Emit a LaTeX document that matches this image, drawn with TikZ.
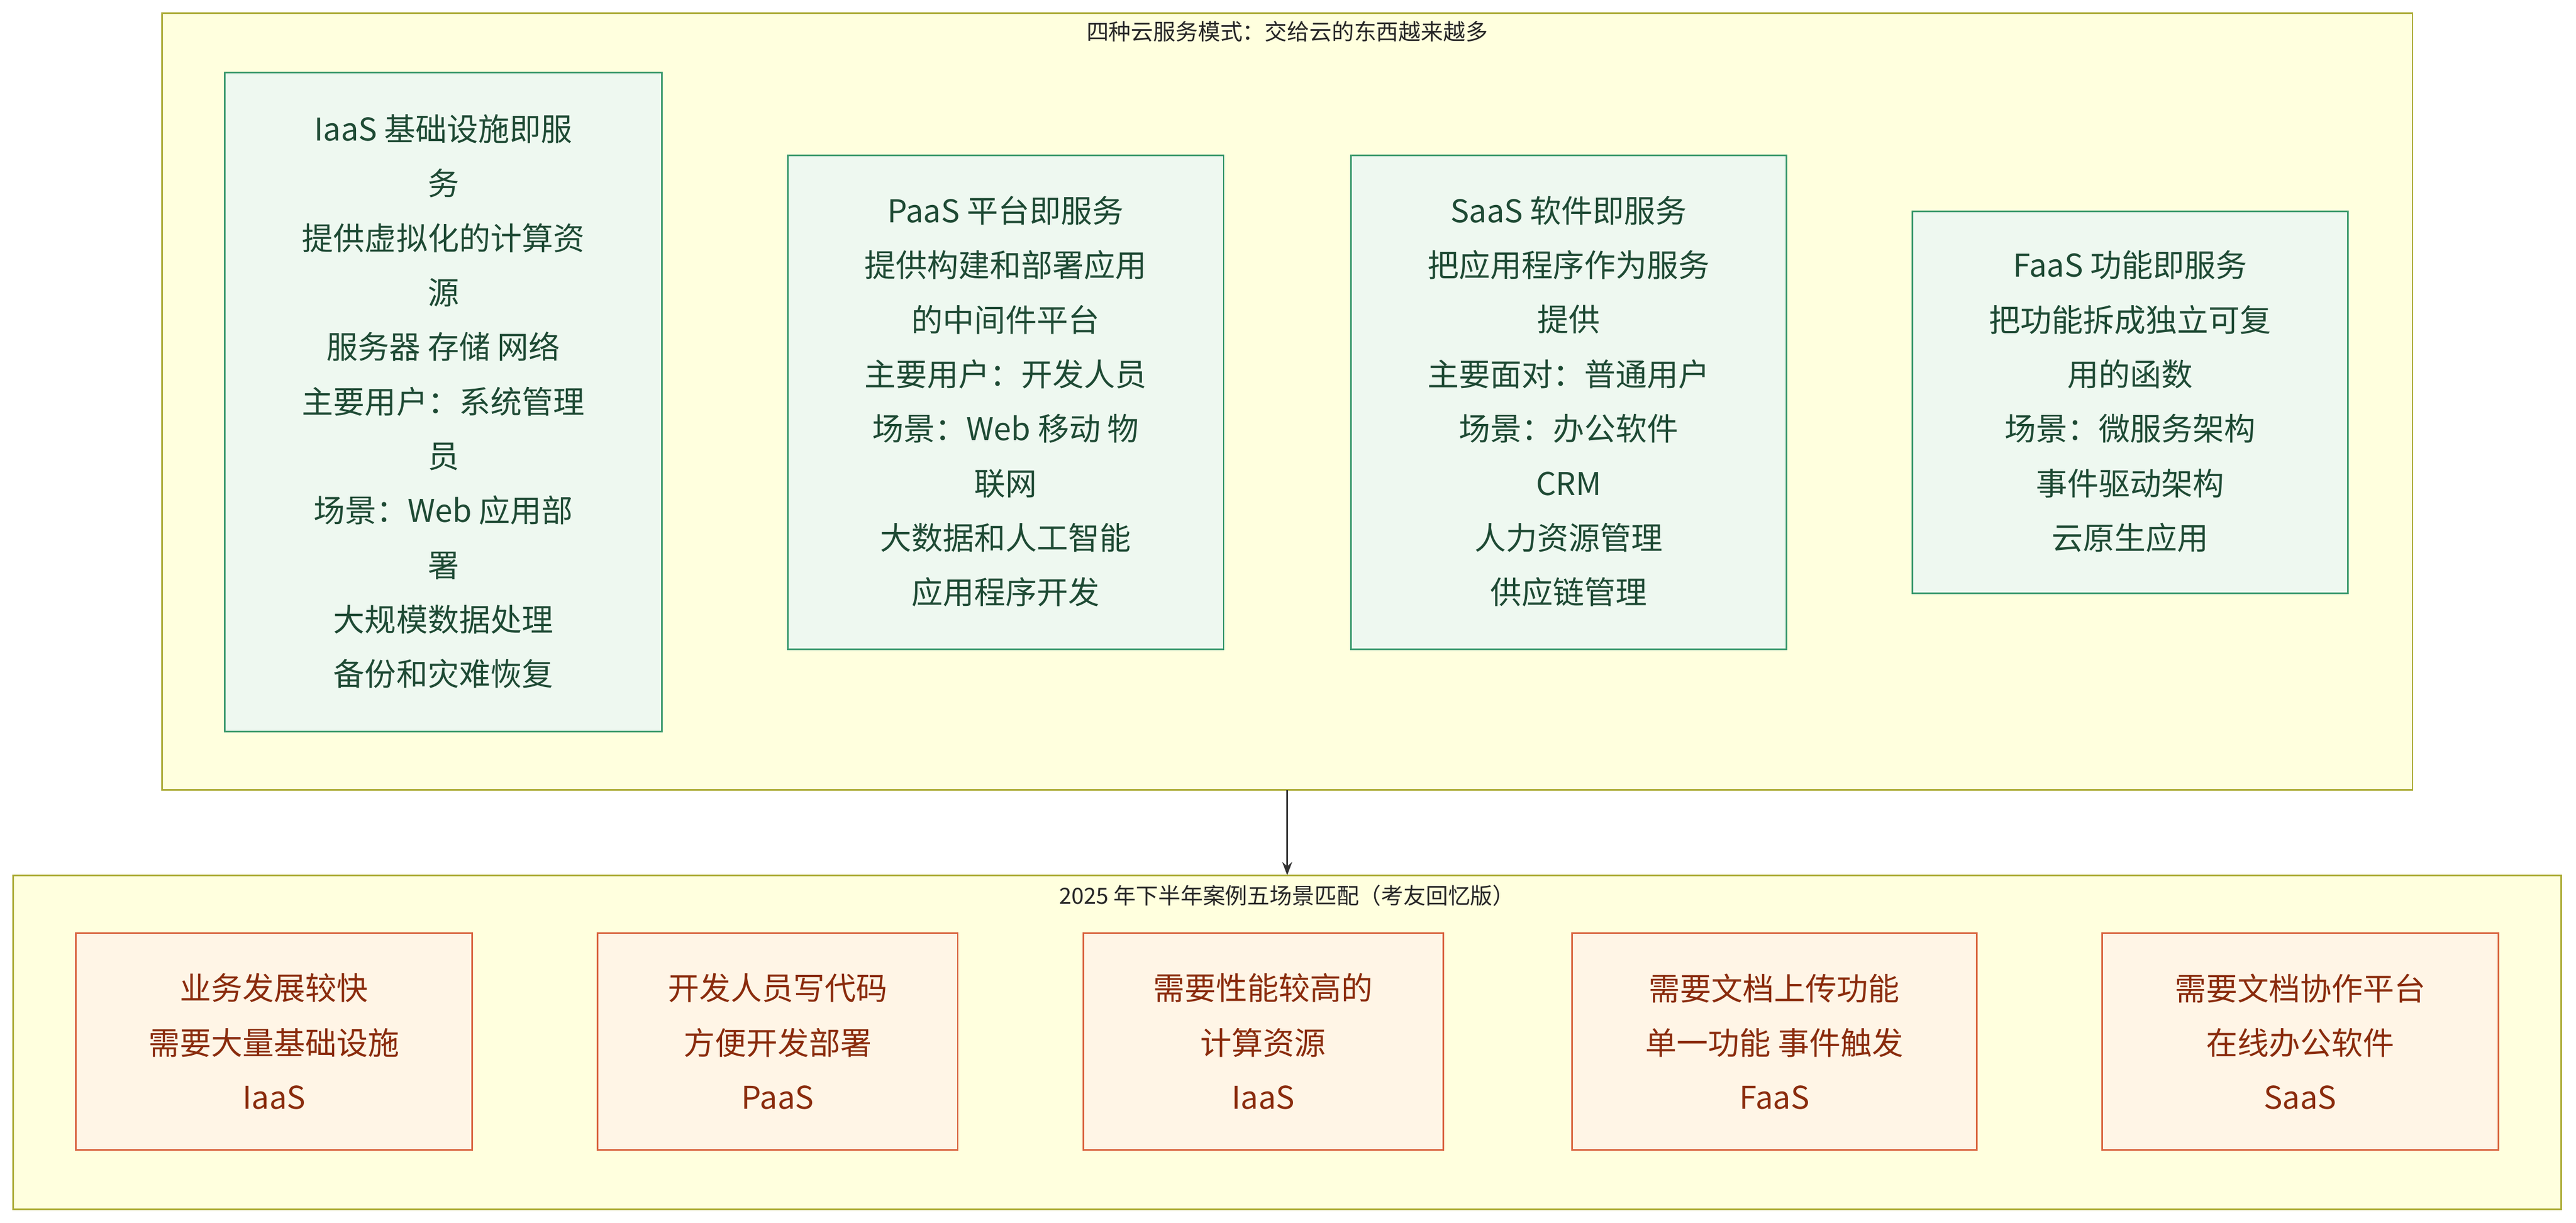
\documentclass[tikz,border=0pt]{standalone}
\usepackage{fontspec}
\setmainfont{Noto Sans CJK SC}
\usetikzlibrary{arrows.meta}
\definecolor{grpfill}{HTML}{FFFFDE}
\definecolor{grpline}{HTML}{AAAA33}
\definecolor{gfill}{HTML}{EEF8F0}
\definecolor{gline}{HTML}{3C9A6E}
\definecolor{gtext}{HTML}{1E4A34}
\definecolor{ofill}{HTML}{FFF5E6}
\definecolor{oline}{HTML}{D9643F}
\definecolor{otext}{HTML}{8A2B0C}
\begin{document}
\begin{tikzpicture}[x=1pt,y=-1pt,
  grp/.style={draw=grpline,fill=grpfill,line width=1pt},
  gbox/.style={draw=gline,fill=gfill,line width=1pt},
  obox/.style={draw=oline,fill=ofill,line width=1pt},
  gt/.style={text=gtext,align=center,font=\fontsize{19}{33}\selectfont},
  ot/.style={text=otext,align=center,font=\fontsize{19}{33}\selectfont},
  tt/.style={text=black!85,font=\fontsize{13.5}{16}\selectfont}]
\useasboundingbox (0,0) rectangle (1560,740);
\fill[white] (0,0) rectangle (1560,740);
% groups
\draw[grp] (98,8) rectangle (1461,478);
\node[minimum width=1363pt,minimum height=470pt,inner sep=0] (top) at (779.5,243) {};
\node[tt] (toptitle) at (779.5,19) {四种云服务模式：交给云的东西越来越多};
\draw[grp] (8,530) rectangle (1551,732);
\node[minimum width=1543pt,minimum height=202pt,inner sep=0] (bot) at (779.5,631) {};
\node[tt] (bottitle) at (779.5,542) {2025 年下半年案例五场景匹配（考友回忆版）};
\draw[-{Stealth[length=8pt,width=6pt]},line width=1pt,black!80] (top.south) -- (bot.north);
% green boxes
\draw[gbox] (136,44) rectangle (401,443);
\node[gt] (iaas) at (268.5,243) {IaaS 基础设施即服\\务\\提供虚拟化的计算资\\源\\服务器 存储 网络\\主要用户：系统管理\\员\\场景：Web 应用部\\署\\大规模数据处理\\备份和灾难恢复};
\draw[gbox] (477,94) rectangle (741,393);
\node[gt] (paas) at (609,243) {PaaS 平台即服务\\提供构建和部署应用\\的中间件平台\\主要用户：开发人员\\场景：Web 移动 物\\联网\\大数据和人工智能\\应用程序开发};
\draw[gbox] (818,94) rectangle (1082,393);
\node[gt] (saas) at (950,243) {SaaS 软件即服务\\把应用程序作为服务\\提供\\主要面对：普通用户\\场景：办公软件\\CRM\\人力资源管理\\供应链管理};
\draw[gbox] (1158,128) rectangle (1422,359);
\node[gt] (faas) at (1290,243) {FaaS 功能即服务\\把功能拆成独立可复\\用的函数\\场景：微服务架构\\事件驱动架构\\云原生应用};
% orange boxes
\draw[obox] (46,565) rectangle (286,696);
\node[ot] (c1) at (166,630.5) {业务发展较快\\需要大量基础设施\\IaaS};
\draw[obox] (362,565) rectangle (580,696);
\node[ot] (c2) at (471,630.5) {开发人员写代码\\方便开发部署\\PaaS};
\draw[obox] (656,565) rectangle (874,696);
\node[ot] (c3) at (765,630.5) {需要性能较高的\\计算资源\\IaaS};
\draw[obox] (952,565) rectangle (1197,696);
\node[ot] (c4) at (1074.5,630.5) {需要文档上传功能\\单一功能 事件触发\\FaaS};
\draw[obox] (1273,565) rectangle (1513,696);
\node[ot] (c5) at (1393,630.5) {需要文档协作平台\\在线办公软件\\SaaS};
\end{tikzpicture}
\end{document}
